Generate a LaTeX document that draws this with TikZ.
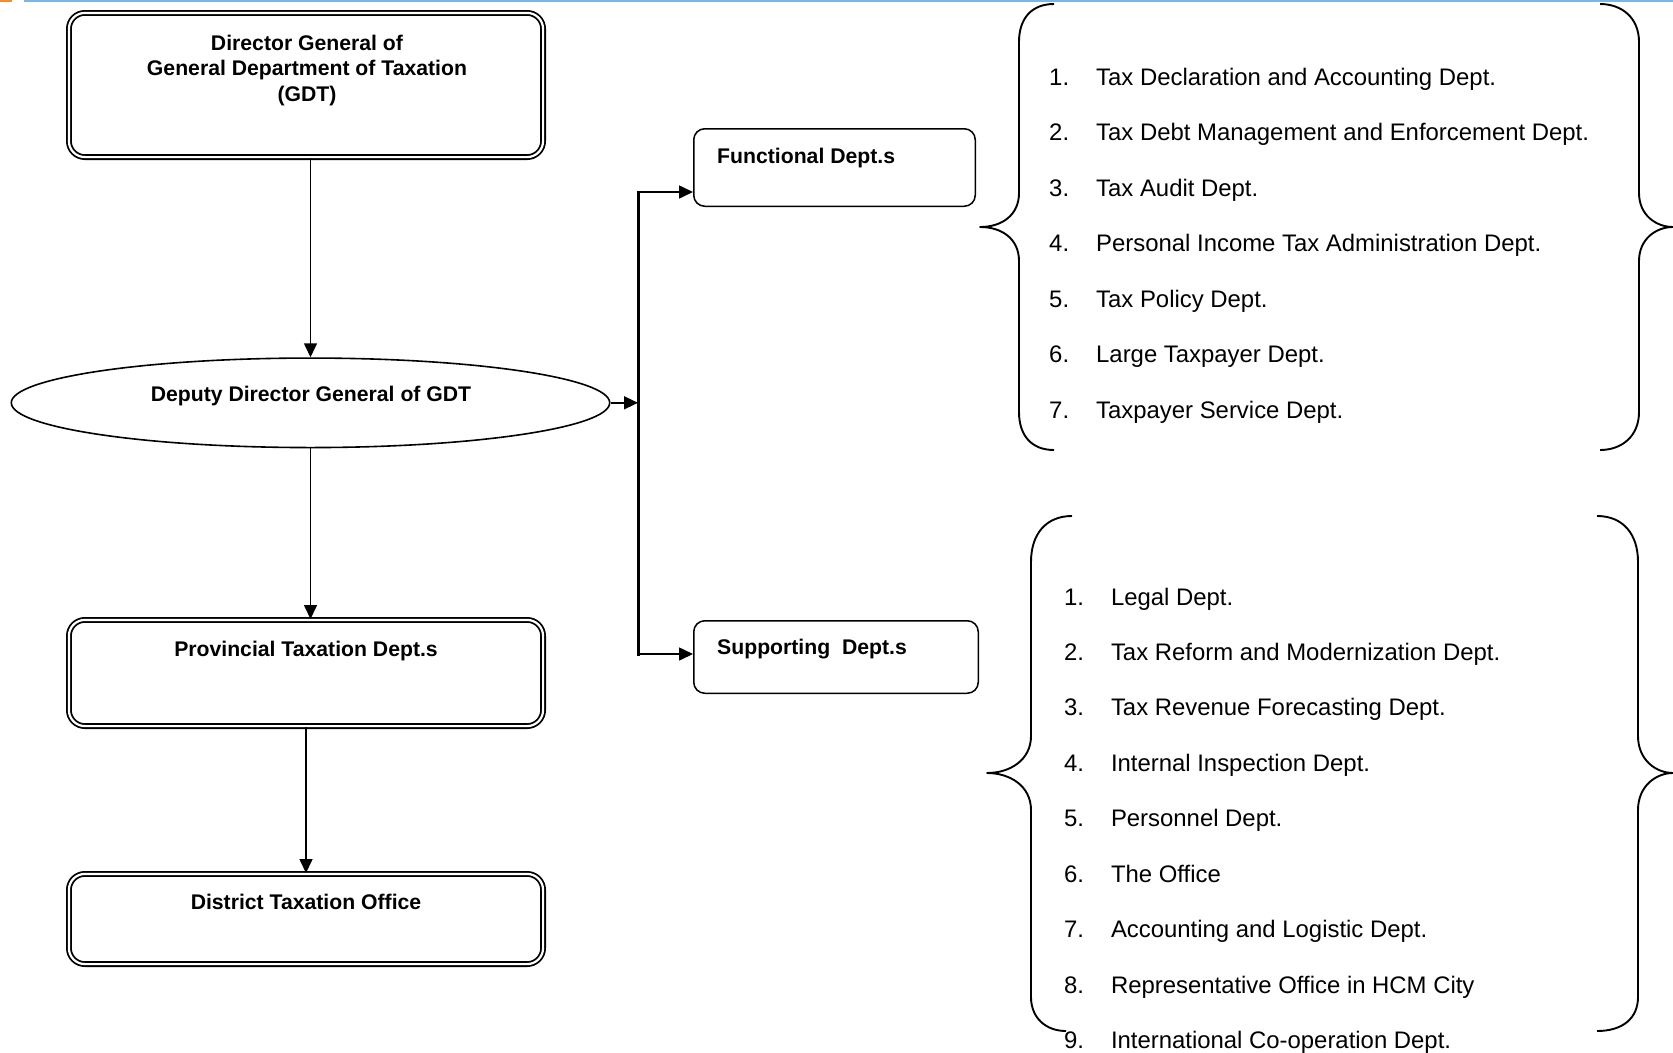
\documentclass[tikz,border=0pt]{standalone}
\usepackage{fontspec}
\setmainfont{Liberation Sans}
\usetikzlibrary{shapes.geometric,arrows.meta,calc}
\definecolor{topblue}{RGB}{125,182,218}
\definecolor{toporange}{RGB}{238,140,60}
\begin{document}
\begin{tikzpicture}[x=1pt,y=-1pt,
  dbox/.style={draw, rounded corners=16pt, double, line width=1.8pt, double distance=2.2pt, inner sep=0pt},
  sbox/.style={draw, rounded corners=11pt, line width=1.5pt, inner sep=0pt},
  btxt/.style={font=\fontsize{21.2}{25.5}\selectfont\bfseries, inner sep=0pt},
  itxt/.style={font=\fontsize{23.9}{28}\selectfont, inner sep=0pt, anchor=base west},
  arr/.style={line width=1.6pt, -{Triangle[length=14pt,width=13pt]}},
  busline/.style={line width=3pt, line cap=rect},
  brace/.style={line width=1.9pt, line join=round}]

\useasboundingbox (0,0) rectangle (1673,1052);
\fill[white] (0,0) rectangle (1673,1052);
\draw[topblue, line width=1.5pt] (24,0.75) -- (1673,0.75);
\draw[toporange, line width=2pt] (0,1) -- (12,1);

% left column
\node[dbox, minimum width=474.2pt, minimum height=144.2pt] (dir) at (306,85) {};
\node[btxt, anchor=base] (dirt1) at (307,50.3) {Director General of};
\node[btxt, anchor=base] (dirt2) at (307,75.9) {General Department of Taxation};
\node[btxt, anchor=base] (dirt3) at (307,101.5) {(GDT)};

\node[draw, ellipse, line width=1.6pt, minimum width=598.4pt, minimum height=89.5pt, inner sep=0pt] (ell) at (310.5,402.8) {};
\node[btxt, anchor=base] (ellt) at (311,401.3) {Deputy Director General of GDT};

\node[dbox, minimum width=474.2pt, minimum height=106.2pt] (prov) at (306,673) {};
\node[btxt, anchor=base] (provt) at (306,656.3) {Provincial Taxation Dept.s};

\node[dbox, minimum width=474.2pt, minimum height=90.2pt] (dist) at (306,919) {};
\node[btxt, anchor=base] (distt) at (306,909.2) {District Taxation Office};

% middle column
\node[sbox, minimum width=281.5pt, minimum height=77.5pt] (func) at (834.5,167.5) {};
\node[btxt, anchor=base west] (funct) at (717,163.4) {Functional Dept.s};
\node[sbox, minimum width=284.5pt, minimum height=72.5pt] (supp) at (836,657) {};
\node[btxt, anchor=base west] (suppt) at (717,654.2) {Supporting\ \ Dept.s};

% connectors
\coordinate (bt) at (638,192);
\coordinate (bb) at (638,654);
\draw[busline] (bt) -- (bb);
\draw[arr] (ell.north |- dir.south) -- (ell.north);
\draw[arr] (ell.south) -- (ell.south |- prov.north);
\draw[arr] (prov.south) -- (dist.north);
\draw[arr] (ell.east) -- (ell.east -| bt);
\draw[arr] (bt) -- (bt -| func.west);
\draw[arr] (bb) -- (bb -| supp.west);

% braces
\draw[brace] (1054,4) .. controls (1032,4) and (1019,18) .. (1019,42) -- (1019,193) .. controls (1019,215) and (1002,227) .. (980,227) .. controls (1002,227) and (1019,239) .. (1019,261) -- (1019,412) .. controls (1019,436) and (1032,450) .. (1054,450);
\draw[brace] (1600,4) .. controls (1622,4) and (1639,18) .. (1639,42) -- (1639,193) .. controls (1639,215) and (1656,227) .. (1673,227) .. controls (1656,227) and (1639,239) .. (1639,261) -- (1639,412) .. controls (1639,436) and (1622,450) .. (1600,450);
\draw[brace] (1072,516) .. controls (1046,516) and (1031,534) .. (1031,562) -- (1031,736) .. controls (1031,760) and (1010,773) .. (987,773) .. controls (1010,773) and (1031,786) .. (1031,810) -- (1031,997) .. controls (1031,1018) and (1046,1031) .. (1066,1031);
\draw[brace] (1597,516) .. controls (1623,516) and (1638,534) .. (1638,562) -- (1638,736) .. controls (1638,760) and (1656,773) .. (1673,773) .. controls (1656,773) and (1638,786) .. (1638,810) -- (1638,997) .. controls (1638,1018) and (1623,1031) .. (1597,1031);

% lists
\foreach \t [count=\i] in {Tax Declaration and Accounting Dept.,
  Tax Debt Management and Enforcement Dept.,
  Tax Audit Dept.,
  Personal Income Tax Administration Dept.,
  Tax Policy Dept.,
  Large Taxpayer Dept.,
  Taxpayer Service Dept.}
  \node[itxt] (fa\i) at (1049,{76.8+55.48*(\i-1)+8.6}) {\makebox[47pt][l]{\i.}\t};
\foreach \t [count=\i] in {Legal Dept.,
  Tax Reform and Modernization Dept.,
  Tax Revenue Forecasting Dept.,
  Internal Inspection Dept.,
  Personnel Dept.,
  The Office,
  Accounting and Logistic Dept.,
  Representative Office in HCM City,
  International Co-operation Dept.}
  \node[itxt] (sa\i) at (1063.8,{596.4+55.48*(\i-1)+8.6}) {\makebox[47pt][l]{\i.}\t};
\end{tikzpicture}
\end{document}
